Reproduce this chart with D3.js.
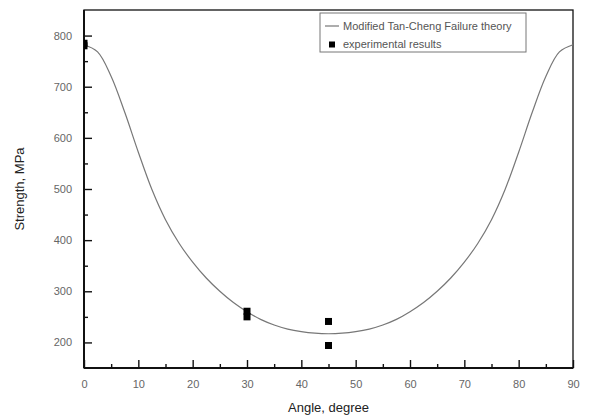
<!DOCTYPE html>
<html>
<head>
<meta charset="utf-8">
<script src="https://cdn.jsdelivr.net/npm/d3@7"></script>
<style>
  body { margin: 0; background: #fff; }
  text { font-family: "Liberation Sans", Arial, sans-serif; }
</style>
</head>
<body>
<div id="chart"></div>
<script>
// theory curve
const curveAngle = [0, 2.5, 5, 7.5, 10, 12.5, 15, 17.5, 20, 22.5, 25, 27.5, 30, 32.5, 35, 37.5, 40, 42.5, 45,
                    47.5, 50, 52.5, 55, 57.5, 60, 62.5, 65, 67.5, 70, 72.5, 75, 77.5, 80, 82.5, 85, 87.5, 90];
const curveStrength = [782, 768, 720, 650, 572, 499, 440, 394, 357, 326, 300, 278, 260, 245, 234, 226, 221, 218, 217,
                       218, 221, 226, 234, 245, 260, 278, 300, 326, 357, 394, 440, 499, 572, 650, 720, 768, 782];
// experimental points
const expAngle = [0, 0, 30, 30, 45, 45];
const expStrength = [785, 780, 261, 250, 241, 194];

const xTicks = d3.range(0, 91, 10);
const yTicks = [200, 300, 400, 500, 600, 700, 800];
const legendLabels = ["Modified Tan-Cheng Failure theory", "experimental results"];

const width = 595, height = 419;
const margin = { top: 10, right: 22, bottom: 51, left: 84 };
const w = width - margin.left - margin.right;
const h = height - margin.top - margin.bottom;

const x = d3.scaleLinear().domain([0, 90]).range([0, w]);
const y = d3.scaleLinear().domain([150, 850]).range([h, 0]);

const svg = d3.select("#chart").append("svg")
    .attr("width", width).attr("height", height);

svg.append("defs").append("clipPath").attr("id", "clip")
    .append("rect").attr("width", w).attr("height", h);

const g = svg.append("g")
    .attr("transform", "translate(" + margin.left + "," + margin.top + ")");

// minor ticks (inside)
g.append("g").attr("transform", "translate(0," + h + ")")
    .call(d3.axisBottom(x).tickValues(d3.range(5, 90, 10)).tickSize(-4).tickFormat(""))
    .call(a => a.select(".domain").remove());
g.append("g")
    .call(d3.axisLeft(y).tickValues(d3.range(250, 850, 100)).tickSize(-4).tickFormat(""))
    .call(a => a.select(".domain").remove());

// major ticks
const xAxis = g.append("g").attr("transform", "translate(0," + h + ")")
    .call(d3.axisBottom(x).tickValues(xTicks).tickSize(-8).tickPadding(12));
const yAxis = g.append("g")
    .call(d3.axisLeft(y).tickValues(yTicks).tickSize(-8).tickPadding(12));

[xAxis, yAxis].forEach(a => {
    a.select(".domain").remove();
    a.selectAll("text").attr("fill", "#666").style("font-size", "11px");
});
g.selectAll(".tick line").attr("stroke", "#111").attr("stroke-width", 1.4);

// frame
g.append("rect").attr("width", w).attr("height", h)
    .attr("fill", "none").attr("stroke", "#111").attr("stroke-width", 1.3);
g.append("line").attr("x1", 0).attr("x2", 0).attr("y1", 0).attr("y2", h)
    .attr("stroke", "#111").attr("stroke-width", 2);
g.append("line").attr("x1", 0).attr("x2", w).attr("y1", h).attr("y2", h)
    .attr("stroke", "#111").attr("stroke-width", 2);

// theory line
const line = d3.line()
    .x((d, i) => x(curveAngle[i]))
    .y(d => y(d))
    .curve(d3.curveCatmullRom.alpha(0.5));

g.append("path")
    .datum(curveStrength)
    .attr("d", line)
    .attr("fill", "none")
    .attr("stroke", "#777")
    .attr("stroke-width", 1.2);

// experimental squares
const sq = 7;
g.append("g").attr("clip-path", "url(#clip)")
    .selectAll("rect").data(expStrength).enter().append("rect")
    .attr("x", (d, i) => x(expAngle[i]) - sq / 2)
    .attr("y", d => y(d) - sq / 2)
    .attr("width", sq).attr("height", sq)
    .attr("fill", "#000");

// legend
const lg = svg.append("g").attr("transform", "translate(320,13)");
lg.append("rect").attr("width", 206).attr("height", 39)
    .attr("fill", "#fff").attr("stroke", "#777").attr("stroke-width", 1);
lg.append("line").attr("x1", 5).attr("x2", 19).attr("y1", 13).attr("y2", 13)
    .attr("stroke", "#777").attr("stroke-width", 1.2);
lg.append("rect").attr("x", 9).attr("y", 28.5).attr("width", 6).attr("height", 6).attr("fill", "#000");
lg.selectAll(".legend-label").data(legendLabels).enter().append("text")
    .attr("class", "legend-label")
    .attr("x", 23)
    .attr("y", (d, i) => 17 + i * 18)
    .attr("fill", "#555")
    .style("font-size", "11px")
    .text(d => d);

// axis titles
svg.append("text")
    .attr("x", margin.left + w / 2)
    .attr("y", 412)
    .attr("text-anchor", "middle")
    .attr("fill", "#222")
    .style("font-size", "13px")
    .text("Angle, degree");
svg.append("text")
    .attr("transform", "translate(24," + (margin.top + h / 2) + ") rotate(-90)")
    .attr("text-anchor", "middle")
    .attr("fill", "#222")
    .style("font-size", "13px")
    .text("Strength, MPa");
</script>
</body>
</html>
